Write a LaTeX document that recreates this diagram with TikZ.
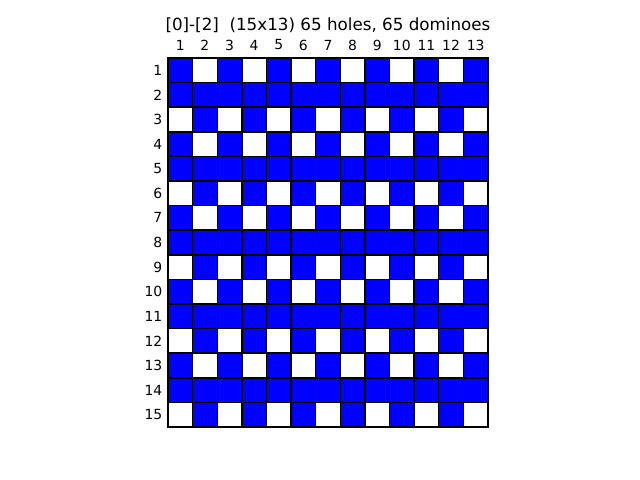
\documentclass[tikz,border=0pt]{standalone}
\usepackage{fontspec}
\setmainfont{DejaVu Sans}
\usetikzlibrary{positioning}

\begin{document}
\begin{tikzpicture}[x=0.025cm, y=-0.025cm, font=\fontsize{9.9}{11}\selectfont,
    cell/.style={draw=black, line width=1pt},
    domino/.style={cell, fill=blue},
    hole/.style={cell, fill=white}]
  \useasboundingbox (0,0) rectangle (640,480);
  \node (title) at (328,25) {\fontsize{11.9}{13}\selectfont [0]-[2]\ \ (15x13) 65 holes, 65 dominoes};
  % cells: row type by mod 3
  \foreach \r in {1,...,15} {
    \foreach \c in {1,...,13} {
      \pgfmathtruncatemacro\k{mod(\r,3)==2 ? 1 : (mod(\r,3)==1 ? mod(\c,2) : 1-mod(\c,2))}
      \ifnum\k=1 \def\sty{domino}\else\def\sty{hole}\fi
      \draw[\sty] ({168+(\c-1)*320/13},{58+(\r-1)*24.6}) rectangle ++(320/13,24.6);
    }
  }
  \draw[line width=1.2pt] (168,58) rectangle (488,427);
  \foreach \c in {1,...,13}
    \node (col\c) at ({168+(\c-0.5)*320/13},45) {\c};
  \foreach \r in {1,...,15}
    \node[anchor=east, inner sep=1pt] (row\r) at ({164},{58+(\r-0.5)*24.6}) {\r};
\end{tikzpicture}
\end{document}
